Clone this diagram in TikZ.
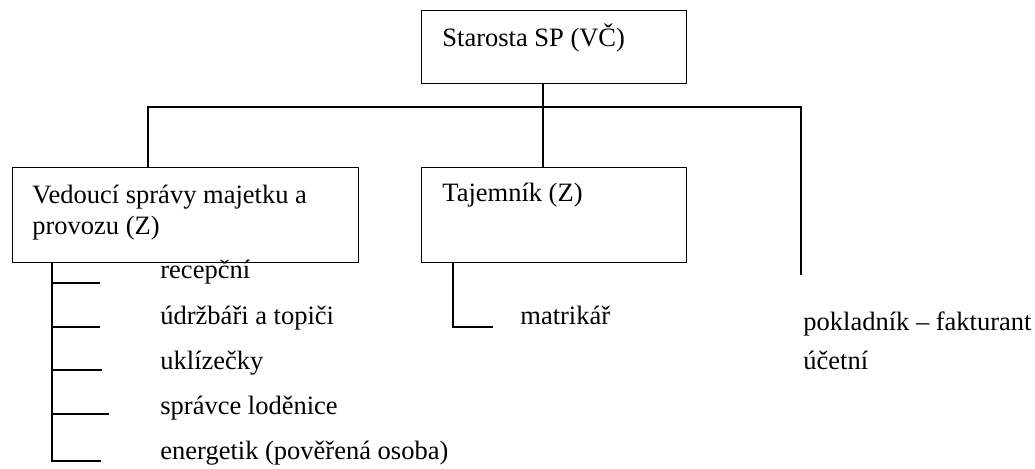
\documentclass[tikz,border=0pt]{standalone}
\usepackage{fontspec}
\setmainfont{Liberation Serif}
\begin{document}
\begin{tikzpicture}[x=.5pt,y=-.5pt,
  unit/.style={draw, line width=.7pt, anchor=north west, inner sep=0pt},
  txt/.style={anchor=base west, inner sep=0pt, align=left, font=\fontsize{13.25}{15.5}\selectfont},
  link/.style={line width=1pt}]
\useasboundingbox (0,0) rectangle (1035,469);
\node[unit, minimum width=132.5pt, minimum height=36.5pt] (starosta) at (421,10) {};
\node[unit, minimum width=173pt, minimum height=47.5pt] (vedouci) at (12,167) {};
\node[unit, minimum width=132.5pt, minimum height=47.5pt] (tajemnik) at (421,167) {};
\node[txt] (starostaT) at (442,47) {Starosta SP (VČ)};
\node[txt] (vedouciT) at (32,235) {Vedoucí správy majetku a\\provozu (Z)};
\node[txt] (tajemnikT) at (442,202) {Tajemník (Z)};
\coordinate (hub) at (543,107);
\coordinate (barL) at (148,107);
\coordinate (barR) at (801,107);
\coordinate (pokl) at (801,275);
\draw[link] (starosta.south -| hub) -- (tajemnik.north -| hub);
\draw[link] (vedouci.north -| barL) -- (barL) -- (barR) -- (pokl);
\coordinate (spine) at (52,0);
\foreach \i/\y/\t/\e/\n in {1/279/283/100/recepční,2/325/327/100/údržbáři a topiči,3/370/370/102/uklízečky,4/415/414/109/správce loděnice,5/460/461/101/energetik (pověřená osoba)}{
    \node[txt] (sub\i) at (160,\y) {\n};
    \coordinate (tick\i) at (\e,\t);
}
\draw[link] (vedouci.south -| spine) -- (tick5 -| spine) -- (tick5);
\foreach \i in {1,...,4}{
    \draw[link] (tick\i -| spine) -- (tick\i);
}
\coordinate (tspine) at (453,0);
\coordinate (mtick) at (493,327);
\draw[link] (tajemnik.south -| tspine) |- (mtick);
\node[txt] (matrikar) at (520,325) {matrikář};
\node[txt] (pokladnik) at (803,331) {pokladník – fakturant};
\node[txt] (ucetni) at (803,370) {účetní};
\end{tikzpicture}
\end{document}
